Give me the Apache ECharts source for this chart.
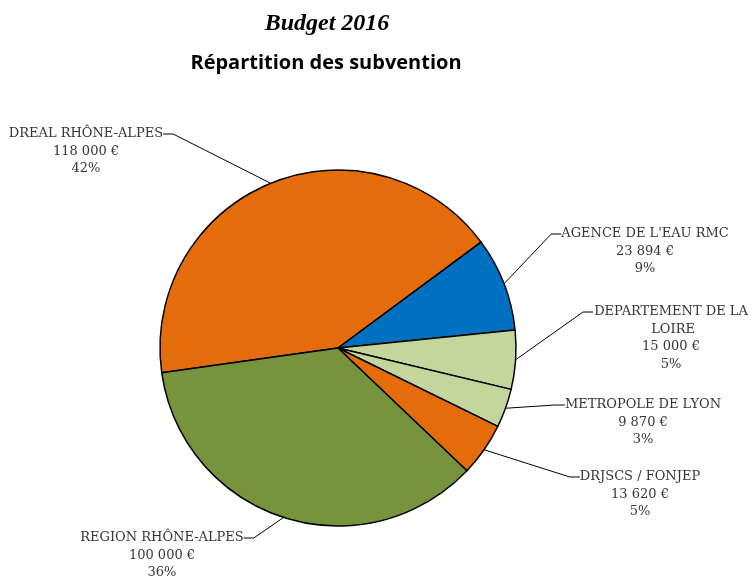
<!DOCTYPE html>
<html>
<head>
<meta charset="utf-8">
<script src="https://cdn.jsdelivr.net/npm/echarts@6/dist/echarts.min.js"></script>
<style>html,body{margin:0;padding:0;background:#fff}#c{width:751px;height:576px}</style>
</head>
<body>
<div id="c"></div>
<script>
const categories = ['DREAL RHÔNE-ALPES', "AGENCE DE L'EAU RMC", 'DEPARTEMENT DE LA LOIRE', 'METROPOLE DE LYON', 'DRJSCS / FONJEP', 'REGION RHÔNE-ALPES'];
const values = [118000, 23894, 15000, 9870, 13620, 100000];
const colors = ['#E46C0A', '#0070C0', '#C3D69B', '#C3D69B', '#E46C0A', '#77933C'];
const labelLineCount = [3, 3, 4, 3, 3, 3];
const labelPos = [[86, 134], [645, 234], [671, 312], [643, 405], [640, 477], [162, 538]];

const LH = 17.5;
function fmt(v) { return String(v).replace(/\B(?=(\d{3})+(?!\d))/g, ' ') + ' €'; }

const chart = echarts.init(document.getElementById('c'));
chart.setOption({
  animation: false,
  title: [
    { text: 'Budget 2016', left: 322, top: 7, textAlign: 'center',
      textStyle: { fontFamily: 'Liberation Serif', fontStyle: 'italic', fontWeight: 'bold', fontSize: 24, color: '#000' } },
    { text: 'Répartition des subvention', left: 321, top: 48, textAlign: 'center',
      textStyle: { fontFamily: 'Open Sans', fontWeight: 'bold', fontSize: 20, color: '#000' } }
  ],
  series: [{
    type: 'pie',
    center: [338, 348],
    radius: 178,
    startAngle: 188,
    clockwise: true,
    percentPrecision: 0,
    avoidLabelOverlap: false,
    itemStyle: { borderColor: '#000', borderWidth: 1.5 },
    label: {
      show: true,
      color: '#363636',
      fontFamily: 'DejaVu Serif',
      fontSize: 13,
      lineHeight: LH,
      formatter: p => {
        const n = labelLineCount[p.dataIndex];
        return '\n'.repeat(n - 1) + p.name + '\n' + fmt(p.value) + '\n' + p.percent + '%';
      }
    },
    labelLine: { show: true, length: 10, length2: 10, lineStyle: { color: '#000', width: 1 } },
    labelLayout: p => {
      const pos = labelPos[p.dataIndex];
      return { x: pos[0], y: pos[1], align: 'center', verticalAlign: 'middle' };
    },
    data: categories.map((c, i) => ({
      name: c,
      value: values[i],
      itemStyle: { color: colors[i] },
      label: labelLineCount[i] > 3 ? { width: 156, overflow: 'break' } : {}
    }))
  }]
});
</script>
</body>
</html>
